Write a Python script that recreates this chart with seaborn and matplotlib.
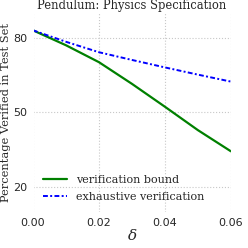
import numpy as np
import pandas as pd
import matplotlib
matplotlib.use('Agg')
import matplotlib.pyplot as plt
import seaborn as sns

# данные
delta = [0.00, 0.01, 0.02, 0.03, 0.04, 0.05, 0.06]
bound = [83.0, 77.0, 70.2, 61.5, 52.3, 42.9, 34.4]
exhaustive = [83.0, 78.4, 74.2, 71.1, 68.1, 65.2, 62.4]
yticks = [20, 50, 80]
xticks = [0.00, 0.02, 0.04, 0.06]

df = pd.DataFrame({'delta': delta, 'bound': bound, 'exhaustive': exhaustive})

sns.set_style('whitegrid', {'grid.linestyle': ':', 'grid.color': '#c8c8c8',
                            'axes.edgecolor': 'white'})
plt.rcParams['mathtext.fontset'] = 'dejavuserif'

fig, ax = plt.subplots(figsize=(2.48, 2.48), dpi=100)
fig.subplots_adjust(left=0.133, right=0.931, top=0.948, bottom=0.145)

sns.lineplot(data=df, x='delta', y='bound', ax=ax, color='g', lw=1.6,
             label='verification bound')
sns.lineplot(data=df, x='delta', y='exhaustive', ax=ax, color='b', lw=1.4,
             dashes=False, label='exhaustive verification')
ax.lines[1].set_dashes((2.5, 1.2, 1, 1.2))

ax.set_xlim(0, 0.06)
ax.set_ylim(10, 90)
ax.set_xticks(xticks)
ax.set_yticks(yticks)
ax.tick_params(labelsize=8, colors='#262626', length=0, pad=4)

serif = {'family': 'DejaVu Serif', 'size': 8.2, 'color': '#262626'}
ax.set_title('Pendulum: Physics Specification', fontdict=dict(serif, size=8.3), pad=3)
ax.set_ylabel('Percentage Verified in Test Set', fontdict=serif, labelpad=2)
ax.set_xlabel(r'$\delta$', fontdict={'size': 11, 'color': '#262626'}, labelpad=0)

leg = ax.legend(loc='lower left', frameon=False, prop={'family': 'DejaVu Serif', 'size': 8},
                handlelength=2.2, borderaxespad=0.5, labelspacing=0.6)
leg.get_lines()[1].set_dashes((2.5, 1.2, 1, 1.2))
for t in leg.get_texts():
    t.set_color('#262626')

fig.savefig('out.png', dpi=100)
